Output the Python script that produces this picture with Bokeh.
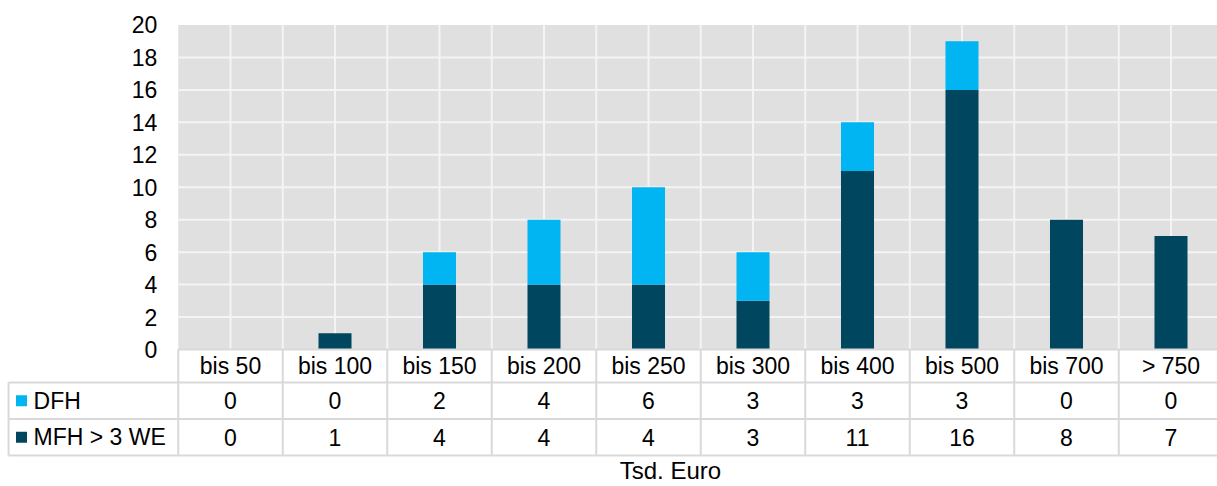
from bokeh.plotting import figure
from bokeh.models import Range1d, ColumnDataSource
from bokeh.core.properties import value
from bokeh.embed import file_html
from bokeh.resources import INLINE

# Data
categories = ["bis 50", "bis 100", "bis 150", "bis 200", "bis 250",
              "bis 300", "bis 400", "bis 500", "bis 700", "> 750"]
dfh = [0, 0, 2, 4, 6, 3, 3, 3, 0, 0]
mfh = [0, 1, 4, 4, 4, 3, 11, 16, 8, 7]
series_names = ["DFH", "MFH > 3 WE"]
y_ticks = [0, 2, 4, 6, 8, 10, 12, 14, 16, 18, 20]
x_title = "Tsd. Euro"

C_DFH = "#00b5f1"
C_MFH = "#00465f"
BG = "#e0e0e0"
GRID = "#f4f4f4"
TABLE_LINE = "#d9d9d9"
FONT = value("Liberation Sans")
FS = "23px"

n = len(categories)
xs = list(range(n))
ymax = y_ticks[-1]

# Table rows below the zero line (data units)
row_top = 0.0
row_hdr = -2.03
row_dfh = -4.28
row_mfh = -6.53
y_hdr_txt = (row_top + row_hdr) / 2
y_dfh_txt = (row_hdr + row_dfh) / 2
y_mfh_txt = (row_dfh + row_mfh) / 2
x_left = -2.124      # left edge of the legend column
x_frame = -0.5       # left edge of the plot area

p = figure(width=1217, height=486, output_backend="svg", toolbar_location=None,
           x_range=Range1d(-2.201, 9.445), y_range=Range1d(-8.444, 21.51),
           x_axis_location=None, y_axis_location=None, min_border=0,
           outline_line_color=None, background_fill_color="white",
           border_fill_color="white")
p.grid.visible = False

# Plot area background
p.quad(left=[x_frame], right=[n - 0.5], bottom=[0], top=[ymax],
       fill_color=BG, line_color=None)

# Horizontal grid lines
hy = [t for t in y_ticks if 0 < t < ymax]
p.segment(x0=[x_frame] * len(hy), x1=[n - 0.5] * len(hy), y0=hy, y1=hy,
          line_color=GRID, line_width=2)

# Vertical grid lines at category centres and boundaries
vx = [k * 0.5 - 0.5 for k in range(1, 2 * n)]
p.segment(x0=vx, x1=vx, y0=[0] * len(vx), y1=[ymax] * len(vx),
          line_color=GRID, line_width=2)

# Stacked bars
src = ColumnDataSource(dict(x=xs, mfh=mfh, dfh=dfh))
p.vbar_stack(["mfh", "dfh"], x="x", width=0.316, color=[C_MFH, C_DFH],
             source=src, line_color=None)

# Y tick labels
p.text(x=[-0.7] * len(y_ticks), y=y_ticks, text=[str(t) for t in y_ticks],
       text_font=FONT, text_font_size=FS, text_align="right",
       text_baseline="middle", text_color="#000000")

# Data table grid
bx = [k - 0.5 for k in range(n + 1)]
p.segment(x0=bx, x1=bx, y0=[row_top] * len(bx), y1=[row_mfh] * len(bx),
          line_color=TABLE_LINE, line_width=2)
p.segment(x0=[x_frame, x_left, x_left, x_left],
          x1=[n - 0.5] * 4,
          y0=[row_top, row_hdr, row_dfh, row_mfh],
          y1=[row_top, row_hdr, row_dfh, row_mfh],
          line_color=TABLE_LINE, line_width=2)
p.segment(x0=[x_left], x1=[x_left], y0=[row_hdr], y1=[row_mfh],
          line_color=TABLE_LINE, line_width=2)

# Table text
p.text(x=xs, y=[y_hdr_txt] * n, text=categories, text_font=FONT,
       text_font_size=FS, text_align="center", text_baseline="middle",
       text_color="#000000")
p.text(x=xs, y=[y_dfh_txt] * n, text=[str(v) for v in dfh], text_font=FONT,
       text_font_size=FS, text_align="center", text_baseline="middle",
       text_color="#000000")
p.text(x=xs, y=[y_mfh_txt] * n, text=[str(v) for v in mfh], text_font=FONT,
       text_font_size=FS, text_align="center", text_baseline="middle",
       text_color="#000000")

# Legend keys in the table
p.scatter(x=[-2.0, -2.0], y=[y_dfh_txt, y_mfh_txt], marker="square", size=11,
          color=[C_DFH, C_MFH], line_color=None)
p.text(x=[-1.885, -1.885], y=[y_dfh_txt, y_mfh_txt], text=series_names,
       text_font=FONT, text_font_size=FS, text_align="left",
       text_baseline="middle", text_color="#000000")

# Axis title
p.text(x=[4.21], y=[-7.46], text=[x_title], text_font=FONT,
       text_font_size="24px", text_align="center", text_baseline="middle",
       text_color="#000000")

open("out.html", "w").write(file_html(p, INLINE))
